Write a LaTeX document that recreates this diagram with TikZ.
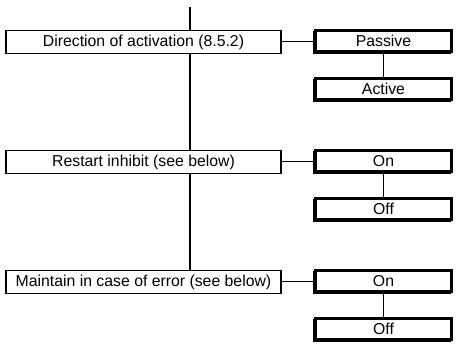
\documentclass[tikz,border=0pt]{standalone}
\usepackage{fontspec}
\setmainfont{Liberation Sans}
\begin{document}
\begin{tikzpicture}[x=1pt,y=-1pt,
  menu/.style={draw,line width=1.2pt,minimum width=275pt,minimum height=23pt,inner sep=0pt,outer sep=0pt,font=\fontsize{15.8}{18}\selectfont},
  choice/.style={draw,fill=white,line width=2.6pt,minimum width=136pt,minimum height=20.5pt,inner sep=0pt,outer sep=0pt,font=\fontsize{15.8}{18}\selectfont,
    preaction={draw,line width=2.6pt,transform canvas={xshift=-1.4pt,yshift=-1.4pt}}},
  trunk/.style={line width=1.8pt},
  link/.style={line width=0.8pt}]
  \useasboundingbox (0,0) rectangle (457,343);

  % menu entries on the left
  \coordinate (top) at (190,7);
  \node[menu] (dir) at (143.5,42) {Direction of activation (8.5.2)};
  \node[menu] (rst) at (143.5,162) {Restart inhibit (see below)};
  \node[menu] (mnt) at (143.5,282) {Maintain in case of error (see below)};
  \draw[trunk] (top) -- (top |- dir.north);
  \draw[trunk] (top |- dir.south) -- (top |- rst.north);
  \draw[trunk] (top |- rst.south) -- (top |- mnt.north);

  % choices on the right
  \node[choice] (pas) at (383.5,41) {Passive};
  \node[choice] (act) at (383.5,89) {Active};
  \node[choice] (on1) at (383.5,161) {On};
  \node[choice] (off1) at (383.5,209) {Off};
  \node[choice] (on2) at (383.5,281) {On};
  \node[choice] (off2) at (383.5,329) {Off};
  \foreach \a/\b/\m in {pas/act/dir,on1/off1/rst,on2/off2/mnt} {
    \draw[link] (\m.east |- \a.west) -- (\a.west);
    \draw[trunk] (\a) -- (\b);
  }
\end{tikzpicture}
\end{document}
